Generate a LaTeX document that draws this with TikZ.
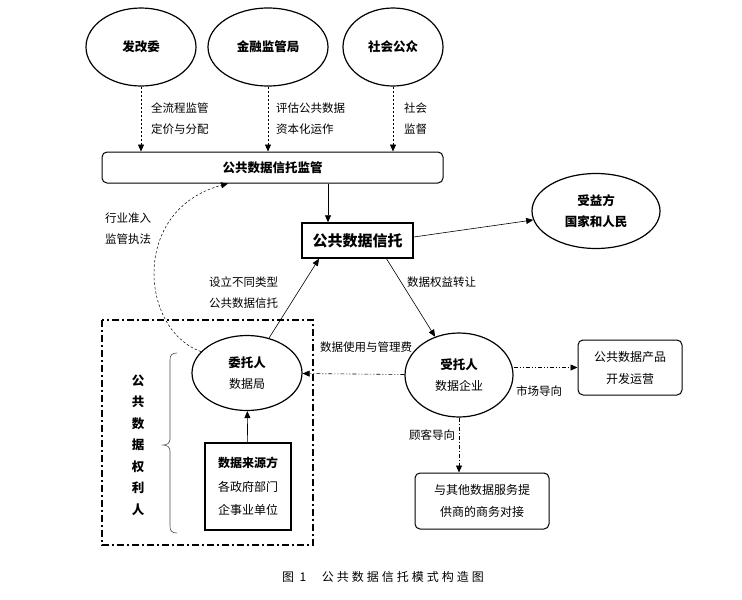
\documentclass[tikz,border=0pt]{standalone}
\usepackage{fontspec}
\setmainfont{Noto Sans CJK SC}
\usetikzlibrary{shapes.geometric,arrows.meta}
\begin{document}
\begin{tikzpicture}[x=1pt,y=-1pt,
  ell/.style={ellipse, draw, line width=1.2pt, inner sep=0pt, align=center},
  rbox/.style={draw, line width=1pt, rounded corners=5pt, align=center, inner sep=0pt},
  sbox/.style={draw, align=center, inner sep=0pt},
  arr/.style={-{Triangle[length=7pt,width=6pt]}, line width=0.6pt},
  lbl/.style={font=\fontsize{11.5}{21}\selectfont, inner sep=0pt, align=left},
  bf/.style={font=\fontsize{12.5}{21}\selectfont\bfseries},
  rg/.style={font=\fontsize{12}{22}\selectfont},
  topdash/.style={dash pattern=on 2.5pt off 1.5pt},
  curvedash/.style={dash pattern=on 2.5pt off 2pt, line width=0.5pt},
  dashdotdot/.style={dash pattern=on 4pt off 2pt on 1pt off 2pt on 1pt off 2pt},
  dashdot/.style={dash pattern=on 4pt off 2pt on 1pt off 2pt},
  frame/.style={line width=1.2pt, dash pattern=on 7pt off 3pt on 2pt off 3pt}
]
\useasboundingbox (0,0) rectangle (742,600);

% top ellipses
\node[ell, minimum width=110, minimum height=78, bf] (fgw) at (141,47) {发改委};
\node[ell, minimum width=120, minimum height=78, bf] (jr) at (268,47) {金融监管局};
\node[ell, minimum width=100, minimum height=78, bf] (sh) at (393,47) {社会公众};

% supervision box
\node[rbox, minimum width=341, minimum height=31, bf] (sup) at (272.5,167.5) {公共数据信托监管};

\draw[arr, topdash] (fgw.south) -- (fgw.south |- sup.north);
\draw[arr, topdash] (jr.south) -- (jr.south |- sup.north);
\draw[arr, topdash] (sh.south) -- (sh.south |- sup.north);

\node[lbl, anchor=west] (l1) at (151,118.5) {全流程监管\\定价与分配};
\node[lbl, anchor=west] (l2) at (276,118.5) {评估公共数据\\资本化运作};
\node[lbl, anchor=west] (l3) at (404,118.5) {社会\\监督};

% trust
\node[sbox, line width=1.5pt, minimum width=111, minimum height=35,
      font=\fontsize{15}{18}\selectfont\bfseries] (trust) at (357.5,240.5) {公共数据信托};
\coordinate (t1) at ([xshift=-29.5pt]trust.north);
\draw[arr] (t1 |- sup.south) -- (t1);

% beneficiary
\node[ell, minimum width=128, minimum height=75, bf] (benef) at (596,211) {受益方\\国家和人民};
\draw[arr] ([yshift=3.5pt]trust.east) -- (benef);

% principal
\node[ell, minimum width=110, minimum height=75, font=\fontsize{12}{21}\selectfont] (principal) at (247,373)
  {{\fontsize{12.5}{21}\selectfont\bfseries 委托人}\\数据局};
\draw[arr] (principal) -- ([xshift=-38.5pt]trust.south);
\node[lbl, anchor=west] (l4) at (209,293) {设立不同类型\\公共数据信托};

% trustee
\node[ell, minimum width=108, minimum height=84, font=\fontsize{12}{21}\selectfont] (trustee) at (459,375)
  {{\fontsize{12.5}{21}\selectfont\bfseries 受托人}\\数据企业};
\draw[arr] ([xshift=29pt]trust.south) -- (trustee);
\node[lbl, anchor=west] (l5) at (407,282) {数据权益转让};

% dashed curve
\coordinate (cv) at ([xshift=-44.5pt]sup.south);
\draw[arr, curvedash] (principal.155) .. controls (140,330) and (130,210) .. (cv);
\node[lbl, align=center] (l6) at (128,228.5) {行业准入\\监管执法};

% frame
\draw[frame] (102,320) rectangle (313,545);
\node[inner sep=0pt, align=center, font=\fontsize{12.5}{21.5}\selectfont\bfseries] (vt) at (138,445)
  {公\\共\\数\\据\\权\\利\\人};
\draw[line width=0.6pt, black!70] (177,353) .. controls (172,353) and (170,355) .. (170,360) -- (170,439)
  .. controls (170,443) and (167,445) .. (163,445)
  .. controls (167,445) and (170,447) .. (170,451) -- (170,526)
  .. controls (170,531) and (172,533) .. (177,533);

% source
\node[sbox, line width=1.2pt, minimum width=86, minimum height=87, font=\fontsize{12}{23.5}\selectfont] (src) at (248,486.5)
  {{\bfseries 数据来源方}\\各政府部门\\企事业单位};
\draw[arr] (src) -- (principal);

% trustee -> principal
\draw[arr, dashdotdot] (trustee) -- (principal);
\node[lbl] (l7) at (366,347) {数据使用与管理费};

% product
\node[rbox, minimum width=104, minimum height=55, rg] (prod) at (630,367.5) {公共数据产品\\开发运营};
\draw[arr, dashdotdot] (trustee.east |- prod.west) -- (prod.west);
\node[lbl] (l8) at (539,391) {市场导向};

% business
\node[rbox, minimum width=134, minimum height=56, rg] (biz) at (482,501) {与其他数据服务提\\供商的商务对接};
\draw[arr, dashdot] (trustee.south) -- (trustee.south |- biz.north);
\node[lbl] (l9) at (432,435) {顾客导向};

% caption
\node[inner sep=0pt, font=\fontsize{12}{14}\selectfont] (cap) at (383,577)
  {\addfontfeature{LetterSpace=25}图\ 1\hspace{1.3em}公共数据信托模式构造图};
\end{tikzpicture}
\end{document}
